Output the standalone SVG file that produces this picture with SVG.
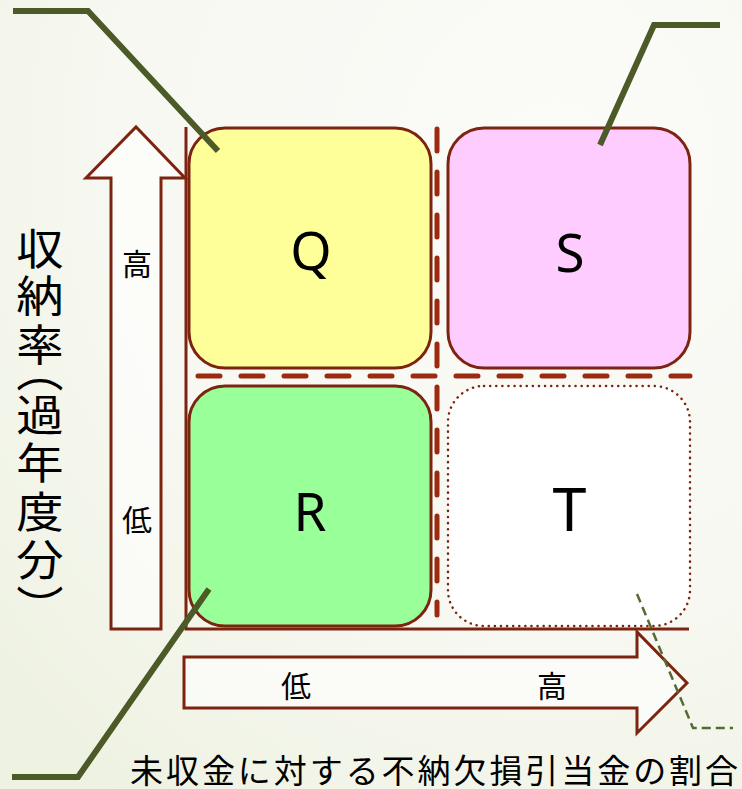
<svg xmlns="http://www.w3.org/2000/svg" width="742" height="789" viewBox="0 0 742 789">
<defs>
<radialGradient id="bg" cx="0.75" cy="0.2" r="1">
<stop offset="0" stop-color="#fbfbf8"/>
<stop offset="0.6" stop-color="#f7f8f1"/>
<stop offset="1" stop-color="#eef2e2"/>
</radialGradient>
<style>
.box{stroke:#7d2410;stroke-width:3}
.lbl{font-family:"Noto Sans","Liberation Sans",sans-serif;font-size:53px;fill:#000;text-anchor:middle}
.jp{font-family:"Noto Sans CJK JP",sans-serif;fill:#000;text-anchor:middle}
.arr{fill:#ffffff;fill-opacity:0.6;stroke:#7d2410;stroke-width:3}
.lead{fill:none;stroke:#4b5a27;stroke-width:6}
.sep{fill:none;stroke:#9b2a10;stroke-width:5;stroke-linecap:round;stroke-dasharray:22 21}
.v{font-size:43px}
.s{font-size:30px}
.p{font-family:"Noto Sans CJK JP",sans-serif;font-size:43px;fill:#000;text-anchor:start;writing-mode:vertical-rl}
.btm{font-family:"Noto Sans CJK JP",sans-serif;font-size:33px;fill:#000;text-anchor:start}
</style>
</defs>
<rect width="742" height="789" fill="url(#bg)"/>
<g id="axes">
<path class="arr" d="M111,629 V178 H86 L136,127 L185,178 H161 V629 Z"/>
<path class="arr" d="M184,657 H637 V632 L687,683 L637,733 V708 H184 Z"/>
<path d="M186,127 V629 H689" fill="none" stroke="#7d2410" stroke-width="3"/>
</g>
<g id="Q"><rect class="box" x="189" y="128" width="242" height="240" rx="36" fill="#ffff99"/><text class="lbl" x="311" y="270">Q</text></g>
<g id="S"><rect class="box" x="448" y="128" width="242" height="240" rx="36" fill="#ffccff"/><text class="lbl" x="570" y="272">S</text></g>
<g id="R"><rect class="box" x="189" y="386" width="242" height="240" rx="36" fill="#99ff99"/><text class="lbl" x="310" y="531">R</text></g>
<g id="T"><rect x="448" y="386" width="242" height="240" rx="36" fill="#ffffff" stroke="#7d2410" stroke-width="2.5" stroke-dasharray="0.1 6" stroke-linecap="round"/><text class="lbl" x="569.5" y="531" style="font-size:61px">T</text></g>
<g id="connectors">
<path class="sep" d="M198,376 H690"/>
<path class="sep" d="M437,129 V615"/>
<path class="lead" d="M13,11 H88 L218,151"/>
<path class="lead" d="M720,25 H654 L600,145"/>
<path class="lead" d="M12,777 H78 L209,589"/>
<path d="M637,594 L693,728 H733" fill="none" stroke="#566b33" stroke-width="2.5" stroke-dasharray="9 5"/>
</g>
<g id="labels">
<text class="jp s" x="137" y="275">高</text>
<text class="jp s" x="137" y="531">低</text>
<text class="jp s" x="296" y="697">低</text>
<text class="jp s" x="552" y="697">高</text>
<g transform="translate(40,0) scale(1.1,1) translate(-40,0)">
<text class="jp v" x="40" y="265">収</text>
<text class="jp v" x="40" y="312">納</text>
<text class="jp v" x="40" y="361">率</text>
<text class="p" x="40" y="349">（</text>
<text class="jp v" x="40" y="431">過</text>
<text class="jp v" x="40" y="479">年</text>
<text class="jp v" x="40" y="528">度</text>
<text class="jp v" x="40" y="576">分</text>
<text class="p" x="40" y="585">）</text>
</g>
<text class="btm" x="130" y="783" textLength="608" lengthAdjust="spacing">未収金に対する不納欠損引当金の割合</text>
</g>
</svg>
